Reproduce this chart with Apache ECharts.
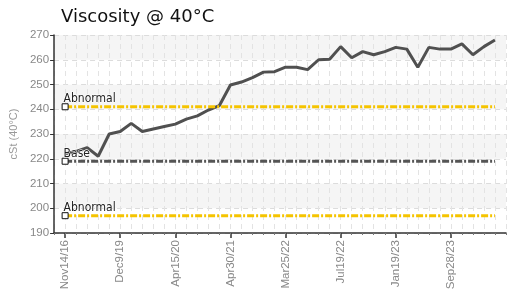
<!DOCTYPE html>
<html>
<head>
<meta charset="utf-8">
<script src="https://cdn.jsdelivr.net/npm/echarts@6/dist/echarts.min.js"></script>
<style>
  html, body { margin: 0; padding: 0; background: #fff; }
  #chart { width: 508px; height: 298px; }
</style>
</head>
<body>
<div id="chart"></div>
<script>
// viscosity readings, one per sample (sample index on x)
const viscosity = [
  222, 223, 224.5, 221, 230, 231, 234.3, 231, 232, 233,
  234, 236, 237.3, 239.7, 241.5, 249.8, 251, 252.8, 255, 255.2,
  257, 257, 256, 260, 260.2, 265.3, 260.8, 263.3, 262, 263.3,
  265, 264.3, 257, 265, 264.3, 264.3, 266.4, 262, 265.3, 268
];
// labelled samples
const tickIndices = [0, 5, 10, 15, 20, 25, 30, 35];
const tickLabels = ["Nov14/16", "Dec9/19", "Apr15/20", "Apr30/21", "Mar25/22", "Jul19/22", "Jan19/23", "Sep28/23"];
// limit lines
const limitNames = ["Abnormal", "Base", "Abnormal"];
const limitValues = [241, 219, 197];
const limitColors = ["#f5c400", "#555555", "#f5c400"];

const narrow = '"Liberation Sans Narrow", "Liberation Sans", sans-serif';
const lastIdx = viscosity.length - 1;

const chart = echarts.init(document.getElementById("chart"));

const limitSeries = limitValues.map(function (v, k) {
  return {
    type: "line",
    xAxisIndex: 0,
    yAxisIndex: 0,
    name: limitNames[k],
    z: 4,
    silent: true,
    symbol: "rect",
    symbolSize: 6,
    itemStyle: { color: "#fff", borderColor: "#111", borderWidth: 1 },
    lineStyle: { color: limitColors[k], width: 3, type: [7, 2, 2, 2] },
    data: [
      {
        value: [0, v],
        label: {
          show: true,
          position: [2, -10],
          formatter: limitNames[k],
          color: "#222",
          fontFamily: '"DejaVu Sans Condensed", sans-serif',
          fontSize: 12,
          textBorderColor: "#fff",
          textBorderWidth: 1
        }
      },
      { value: [lastIdx, v], symbol: "none" }
    ]
  };
});

chart.setOption({
  animation: false,
  title: {
    text: "Viscosity @ 40°C",
    left: 56,
    top: 3,
    textStyle: { fontFamily: '"DejaVu Sans", sans-serif', fontSize: 18, fontWeight: "normal", color: "#111" }
  },
  grid: { left: 53, right: 2, top: 35, bottom: 65 },
  xAxis: [
    {
      type: "value",
      min: -1,
      max: 40,
      position: "bottom",
      axisLine: { show: true, onZero: false, lineStyle: { color: "#333", width: 1.5 } },
      axisTick: { show: true, customValues: tickIndices, length: 5, lineStyle: { color: "#333", width: 1.5 } },
      axisLabel: {
        customValues: tickIndices,
        rotate: 90,
        color: "#888",
        fontFamily: narrow,
        fontSize: 11.5,
        margin: 7,
        formatter: function (v) { return tickLabels[tickIndices.indexOf(v)]; }
      },
      splitLine: { show: true, lineStyle: { color: "#c8c8c8", type: [5, 4] } }
    },
    {
      type: "value",
      min: -1,
      max: 40,
      interval: 1,
      position: "bottom",
      axisLine: { show: false, onZero: false },
      axisTick: { show: true, length: 2, lineStyle: { color: "#777" } },
      axisLabel: { show: false },
      splitLine: { show: true, lineStyle: { color: "#e3e3e3", type: [5, 4] } }
    }
  ],
  yAxis: {
    type: "value",
    min: 190,
    max: 270,
    interval: 10,
    name: "cSt (40°C)",
    nameLocation: "middle",
    nameGap: 34,
    nameTextStyle: { color: "#999", fontFamily: narrow, fontSize: 11 },
    axisLine: { show: true, onZero: false, lineStyle: { color: "#333", width: 1.5 } },
    axisTick: { show: true, length: 4, lineStyle: { color: "#333" } },
    axisLabel: { color: "#888", fontFamily: narrow, fontSize: 11.5, margin: 5 },
    splitLine: { show: true, lineStyle: { color: "#dcdcdc", type: [5, 4] } },
    splitArea: { show: true, areaStyle: { color: ["#ffffff", "#f5f5f5"] } }
  },
  series: [
    {
      type: "line",
      xAxisIndex: 0,
      z: 3,
      showSymbol: false,
      symbol: "none",
      lineStyle: { color: "#505050", width: 3 },
      data: viscosity.map(function (v, i) { return [i, v]; })
    }
  ].concat(limitSeries)
});
</script>
</body>
</html>
